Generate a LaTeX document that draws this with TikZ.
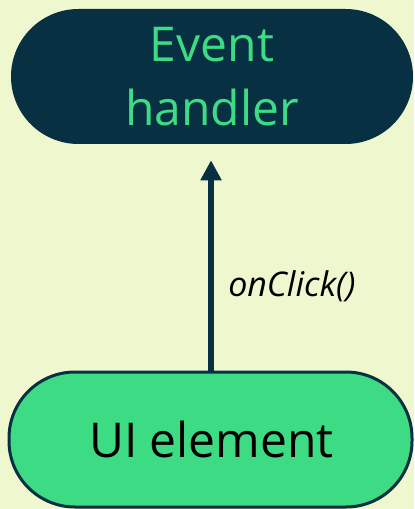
\documentclass[tikz,border=0pt]{standalone}
\usepackage{fontspec}
\setmainfont{Open Sans}
\usetikzlibrary{arrows.meta}
\definecolor{navy}{HTML}{073042}
\definecolor{droidgreen}{HTML}{3DDC84}
\definecolor{paper}{HTML}{EFF7CF}
\tikzset{
  pill/.style={rectangle, rounded corners=49.5pt, align=center,
    font=\fontsize{36}{48}\selectfont, inner sep=0pt},
  handlerbox/.style={pill, fill=navy, text=droidgreen,
    minimum width=301.5pt, minimum height=101.25pt, rounded corners=50.6pt},
  elementbox/.style={pill, fill=droidgreen, draw=navy, line width=2.25pt,
    text=black, minimum width=302.25pt, minimum height=101.25pt},
  callarrow/.style={draw=navy, line width=4.5pt,
    -{Triangle[width=15pt,length=15pt]}},
  calllabel/.style={font=\fontsize{25.5}{30}\selectfont\itshape, anchor=west,
    inner sep=0pt}
}
\begin{document}
\begin{tikzpicture}[x=0.75pt, y=-0.75pt]
  \fill[paper] (0,0) rectangle (414,509);
  \useasboundingbox (0,0) rectangle (414,509);
  \node[handlerbox] (eh) at (212,76.5) {Event\\handler};
  \node[elementbox] (ui) at (210.5,439.5) {\hspace{1.5pt}UI element};
  \draw[callarrow, shorten >=12pt] ([xshift=0.4pt]ui.north) -- ([xshift=0.4pt]ui.north |- eh.south);
  \node[calllabel] (lbl) at (228,286) {onClick()};
\end{tikzpicture}
\end{document}
